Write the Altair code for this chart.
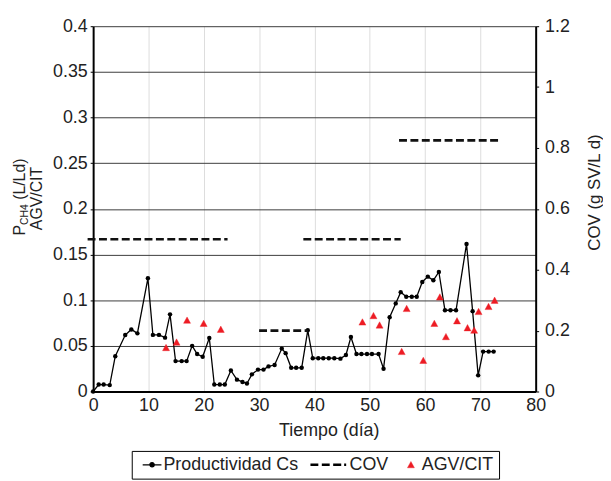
import altair as alt
import pandas as pd

# ---------------- data ----------------
dias_prod = [0, 1.0, 1.9, 3.0, 4.0, 5.8, 6.9, 8.0, 9.9, 10.8, 11.9, 13.0, 13.9, 14.9, 16.0,
             16.9, 17.9, 18.8, 19.8, 21.0, 21.9, 22.9, 23.8, 24.9, 26.0, 27.0, 27.8, 28.7,
             29.8, 30.8, 31.7, 32.8, 34.1, 34.8, 35.8, 36.7, 37.7, 38.8, 39.7, 40.7, 41.6,
             42.6, 43.6, 44.7, 45.7, 46.6, 47.6, 48.5, 49.5, 50.4, 51.6, 52.5, 53.6, 54.7,
             55.6, 56.6, 57.6, 58.5, 59.5, 60.5, 61.5, 62.5, 63.6, 64.6, 65.6, 67.5, 68.6,
             69.6, 70.5, 71.5, 72.4]
prod = [0, 0.0076, 0.0076, 0.007, 0.0387, 0.0618, 0.068, 0.0637, 0.124, 0.062, 0.062, 0.059,
        0.0845, 0.0333, 0.0333, 0.0333, 0.050, 0.041, 0.038, 0.0586, 0.0076, 0.0076, 0.0076,
        0.023, 0.013, 0.0105, 0.0087, 0.0188, 0.024, 0.024, 0.0275, 0.029, 0.047, 0.042,
        0.026, 0.026, 0.026, 0.067, 0.0365, 0.0365, 0.0365, 0.0365, 0.0365, 0.036, 0.040,
        0.0597, 0.041, 0.041, 0.041, 0.041, 0.041, 0.025, 0.0813, 0.0965, 0.1088, 0.1038,
        0.1038, 0.1038, 0.120, 0.1258, 0.1218, 0.131, 0.089, 0.089, 0.089, 0.1616, 0.088,
        0.0177, 0.0437, 0.0437, 0.0437]

dias_agv = [13.0, 14.9, 16.8, 19.8, 22.9, 48.5, 50.5, 51.6, 55.6, 56.5, 59.5, 61.5, 62.5,
            63.6, 65.6, 67.5, 68.7, 69.5, 71.3, 72.4]
agv = [0.048, 0.054, 0.078, 0.0745, 0.068, 0.076, 0.083, 0.0727, 0.0437, 0.0908, 0.034,
       0.0745, 0.1034, 0.060, 0.0773, 0.0697, 0.067, 0.0875, 0.093, 0.0998]

cov_inicio = [-1, 30.0, 38.0, 55.3]
cov_fin = [24.3, 38.8, 55.6, 73.2]
cov_val = [0.5, 0.2, 0.5, 0.825]

series = ["Productividad Cs", "COV", "AGV/CIT"]
x_ticks = [0, 10, 20, 30, 40, 50, 60, 70, 80]
y_left_ticks = [0, 0.05, 0.1, 0.15, 0.2, 0.25, 0.3, 0.35, 0.4]
y_right_ticks = [0, 0.2, 0.4, 0.6, 0.8, 1.0, 1.2]

RED = "#ed1c24"
FONT = "Liberation Sans"
TXT = "#222222"

# ---------------- tables ----------------
df_prod = pd.DataFrame({"dia": dias_prod, "v": prod})
df_agv = pd.DataFrame({"dia": dias_agv, "v": agv, "serie": "AGV/CIT"})
rows = []
for i, (a, b, c) in enumerate(zip(cov_inicio, cov_fin, cov_val)):
    rows.append({"dia": a, "cov": c, "seg": i})
    rows.append({"dia": b, "cov": c, "seg": i})
df_cov = pd.DataFrame(rows)

# legend symbols (custom paths)
sym_prod = "M-0.58,0H1M0.03,0A0.18,0.18,0,1,0,0.39,0A0.18,0.18,0,1,0,0.03,0Z"
sym_cov = "M-1,0H-0.57M-0.38,0H0.05M0.24,0H0.68M0.84,0H0.95"
sym_tri = "M0.095,-0.32L0.43,0.29L-0.24,0.29Z"

x_enc = alt.X("dia:Q",
              scale=alt.Scale(domain=[0, 80], nice=False, zero=False),
              axis=alt.Axis(values=x_ticks, format="d", title="Tiempo (día)",
                            ticks=False, labelPadding=5, labelFlush=False, domainWidth=2.2,
                            domainColor="black", titleX=238, titleY=44.7,
                            titleBaseline="alphabetic", titleAlign="center",
                            titleFontSize=18))

y_left = alt.Y("v:Q",
               scale=alt.Scale(domain=[0, 0.4], nice=False),
               axis=alt.Axis(orient="left", values=y_left_ticks, format=".2~f", title=None,
                             grid=True, gridColor="#3c3c3c", gridWidth=1, labelFlush=False,
                             tickSize=3, labelPadding=3, domainWidth=2, domainColor="black"))

linea = alt.Chart(df_prod).mark_line(color="black", strokeWidth=1.3).encode(x=x_enc, y=y_left)
puntos = alt.Chart(df_prod).mark_point(filled=True, color="black", size=20, opacity=1).encode(
    x=x_enc, y=y_left)

leg = alt.Legend(orient="none", legendX=39, legendY=429, direction="horizontal", title=None,
                 strokeColor="black", padding=5, clipHeight=18, labelFontSize=18,
                 labelOffset=1, columnPadding=10, labelFont=FONT, labelColor=TXT)

triang = alt.Chart(df_agv).mark_point(filled=True, opacity=1).encode(
    x=x_enc, y=y_left,
    shape=alt.Shape("serie:N", scale=alt.Scale(domain=series, range=[sym_prod, sym_cov, sym_tri]),
                    legend=leg),
    fill=alt.Fill("serie:N", scale=alt.Scale(domain=series, range=["black", "black", RED]),
                  legend=leg),
    stroke=alt.Stroke("serie:N", scale=alt.Scale(domain=series, range=["black", "black", RED]),
                      legend=leg),
    size=alt.Size("serie:N", scale=alt.Scale(type="ordinal", domain=series, range=[576, 1369, 441]),
                  legend=leg),
    strokeWidth=alt.StrokeWidth("serie:N",
                                scale=alt.Scale(type="ordinal", domain=series, range=[1.3, 2.6, 0.4]),
                                legend=leg),
)

# left axis title built from text pieces (subscript CH4)
def titulo(txt, x, y, size):
    return alt.Chart(pd.DataFrame({"t": [txt]})).mark_text(
        angle=270, align="left", baseline="alphabetic", font=FONT, fontSize=size, color=TXT
    ).encode(text="t:N", x=alt.value(x), y=alt.value(y))

t1 = titulo("P", -69, 211.5, 16)
t2 = titulo("CH4", -66, 200.8, 10.5)
t3 = titulo("(L/Ld)", -69, 175.4, 16)
t4 = titulo("AGV/CIT", -52, 206, 16)

izq = alt.layer(linea, puntos, triang, t1, t2, t3, t4)

cov = alt.Chart(df_cov).mark_line(color="#111111", strokeWidth=2.6, strokeDash=[8, 3.5]).encode(
    x=x_enc,
    y=alt.Y("cov:Q", scale=alt.Scale(domain=[0, 1.2], nice=False),
            axis=alt.Axis(orient="right", values=y_right_ticks, format=".1~f",
                          title="COV (g SV/L d)", titleAngle=270, titleX=64, titleY=167.5,
                          titleAlign="center", titleBaseline="alphabetic", titleFontSize=17,
                          grid=False, tickSize=3, labelPadding=6, labelFlush=False,
                          domainWidth=2, domainColor="black")),
    detail="seg:N",
)

chart = alt.layer(izq, cov).resolve_scale(y="independent").properties(
    width=447, height=369,
    autosize=alt.AutoSizeParams(type="none"),
    padding={"left": 86, "top": 16, "right": 68, "bottom": 88},
).configure_view(stroke=None).configure_axis(
    labelFont=FONT, titleFont=FONT, labelFontSize=18, labelColor=TXT, titleColor=TXT,
    titleFontWeight="normal", tickColor="black",
)

chart.save("out.html", embed_options={"renderer": "svg", "actions": False})
